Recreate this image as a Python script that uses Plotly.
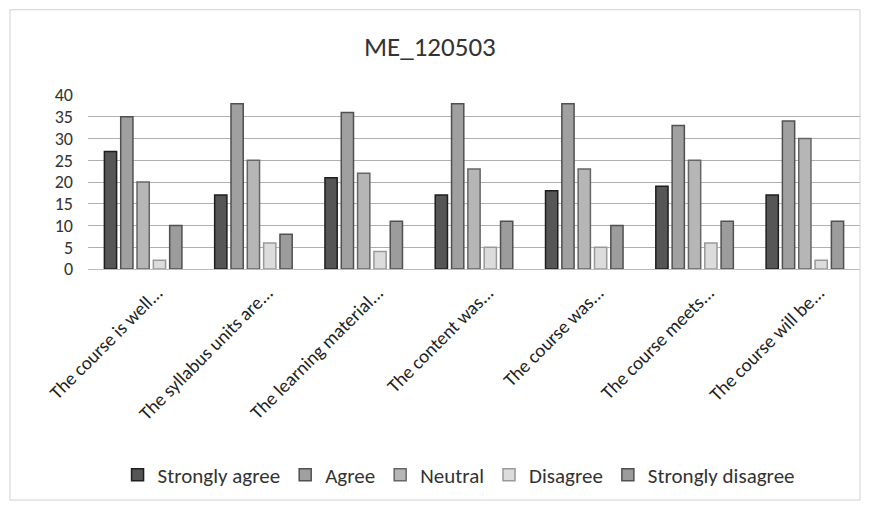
import plotly.graph_objects as go

categories = ["The course is well...", "The syllabus units are...", "The learning material...",
              "The content was...", "The course was...", "The course meets...", "The course will be..."]
strongly_agree = [27, 17, 21, 17, 18, 19, 17]
agree = [35, 38, 36, 38, 38, 33, 34]
neutral = [20, 25, 22, 23, 23, 25, 30]
disagree = [2, 6, 4, 5, 5, 6, 2]
strongly_disagree = [10, 8, 11, 11, 10, 11, 11]

series = [
    ("Strongly agree", strongly_agree, "#565656", "#1e1e1e"),
    ("Agree", agree, "#a0a0a0", "#505050"),
    ("Neutral", neutral, "#b6b6b6", "#666666"),
    ("Disagree", disagree, "#dcdcdc", "#999999"),
    ("Strongly disagree", strongly_disagree, "#9c9c9c", "#505050"),
]

fig = go.Figure()
for name, vals, fill, line in series:
    fig.add_trace(go.Bar(name=name, x=categories, y=vals,
                         marker=dict(color=fill, line=dict(color=line, width=1.5))))

FONT = "Carlito, Lato, 'Open Sans', sans-serif"
fig.update_layout(
    width=854, height=493,
    barmode="group", bargap=0.26, bargroupgap=0.25,
    paper_bgcolor="white", plot_bgcolor="white",
    margin=dict(l=80, r=2, t=87, b=232, autoexpand=False),
    font=dict(family=FONT, color="#333333", size=17),
    title=dict(text="ME_120503", x=0.494, xanchor="center", y=0.921, yanchor="middle",
               font=dict(size=27, color="#333333")),
    legend=dict(orientation="h", x=0.48, xanchor="center", y=-1.184, yanchor="middle",
                font=dict(size=21, color="#333333"), traceorder="normal",
                itemwidth=30),
    showlegend=True,
)
fig.update_yaxes(range=[0, 40], dtick=5, showgrid=True, gridcolor="#b0b0b0", gridwidth=1,
                 zeroline=False, showline=False, ticks="", ticklabelstandoff=14,
                 automargin=False, tickfont=dict(size=18, color="#333333"))
fig.update_xaxes(tickangle=-45, showline=True, linecolor="#bbbbbb", ticks="",
                 automargin=False, ticklabelshift=14, ticklabelstandoff=4,
                 tickfont=dict(size=19, color="#222222"))
fig.add_shape(type="rect", xref="paper", yref="paper", x0=-0.101, x1=1.0, y0=-1.328, y1=1.49,
              line=dict(color="#d0d0d0", width=1))

fig.write_html("out.html")
